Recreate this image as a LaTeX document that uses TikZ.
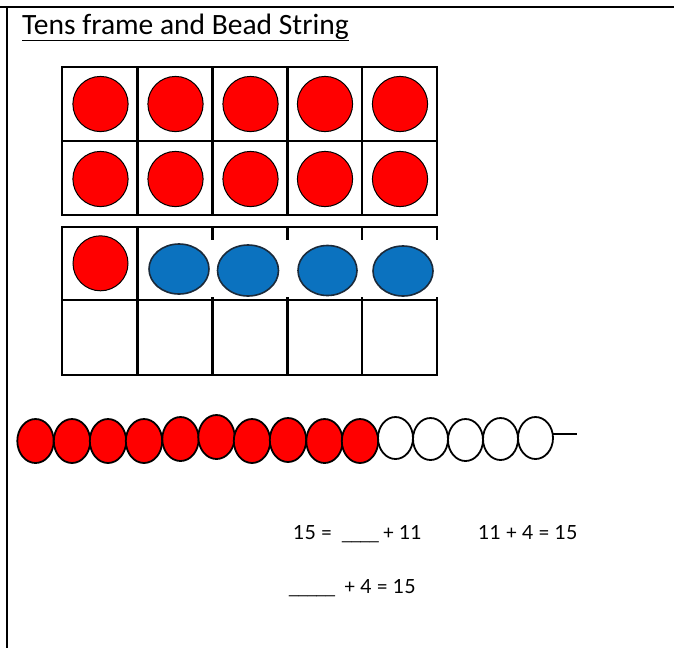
\documentclass[tikz,border=0pt]{standalone}
\usepackage{fontspec}
\setmainfont{Carlito}
\newfontfamily\eqfont{Lato}
\newfontfamily\usfont{Liberation Sans}
\definecolor{beadred}{HTML}{FF0000}
\definecolor{counterblue}{HTML}{0B72BF}
\definecolor{bluerim}{HTML}{1B2A3A}
\newcommand{\blankline}[1]{{\usfont\fontsize{16.5}{18}\selectfont#1}}
\begin{document}
\begin{tikzpicture}[x=1pt,y=-1pt,
  border/.style={line width=2.2pt,black},
  grid/.style={line width=2.8pt,black},
  redcounter/.style={fill=beadred,draw=black,line width=1pt},
  bluecounter/.style={fill=counterblue,draw=bluerim,line width=1.6pt},
  redbead/.style={fill=beadred,draw=black,line width=1.8pt},
  whitebead/.style={fill=white,draw=black,line width=1.8pt},
  eq/.style={anchor=base west,inner sep=0pt,font=\eqfont\fontsize{19.5}{22}\selectfont}]
\useasboundingbox (0,0) rectangle (674,648);
\fill[white] (0,0) rectangle (674,648);
% borders
\draw[border] (0,7) -- (674,7);
\draw[border] (7,7) -- (7,648);
% title
\node[anchor=base west,inner sep=0pt,font=\fontsize{29.5}{32}\selectfont] (title) at (22,34) {Tens frame and Bead String};
\draw[line width=1.6pt] ([yshift=-6.5pt]title.base west) -- ([yshift=-6.5pt]title.base east);
% top tens frame
\draw[grid] (62,67) rectangle (437,215);
\draw[grid] (62,141) -- (437,141);
\foreach \x in {137.5,212.5,287.5,362} \draw[grid] (\x,67) -- (\x,215);
\foreach \x in {100.5,175.5,250.5,325,400}{
  \draw[redcounter] (\x,104) circle (27.6);
  \draw[redcounter] (\x,179) circle (27.6);
}
% bottom tens frame
\draw[grid] (62,227) rectangle (437,375);
\draw[grid] (62,300) -- (437,300);
\foreach \x in {137.5,212.5,287.5,362} \draw[grid] (\x,227) -- (\x,375);
% white backgrounds of the pasted blue counters
\foreach \x in {212.5,287.5,362,437} \fill[white] (\x-2.2,240) rectangle (\x+2.2,297);
\draw[redcounter] (100.5,263.3) circle (27.5);
\draw[bluecounter] (179,269) ellipse (30 and 25);
\draw[bluecounter] (248,270.5) ellipse (30.5 and 25.5);
\draw[bluecounter] (327.5,270.5) ellipse (29.5 and 25);
\draw[bluecounter] (403,271) ellipse (30 and 25);
% bead string
\draw[line width=1.6pt] (553,434) -- (577,434);
\foreach \x/\y in {35.5/441,72/441,108/441,144/441,180.5/439,216.5/437,252/441,288/440,324.5/441,360/441}
  \draw[redbead] (\x,\y) ellipse (18.2 and 22);
\foreach \x/\y in {395.5/438,430.5/439,465.5/440,500.5/439,535.5/438}
  \draw[whitebead] (\x,\y) ellipse (17.5 and 21);
% number sentences
\node[eq] (s1) at (293,539) {15 =\hspace{10pt}\blankline{\_\_\_\_}\hspace{4pt}+ 11};
\node[eq] (s2) at (478,539) {11 + 4 = 15};
\node[eq] (s3) at (289,593) {\blankline{\_\_\_\_\_}\hspace{9pt}+ 4 = 15};
\end{tikzpicture}
\end{document}
